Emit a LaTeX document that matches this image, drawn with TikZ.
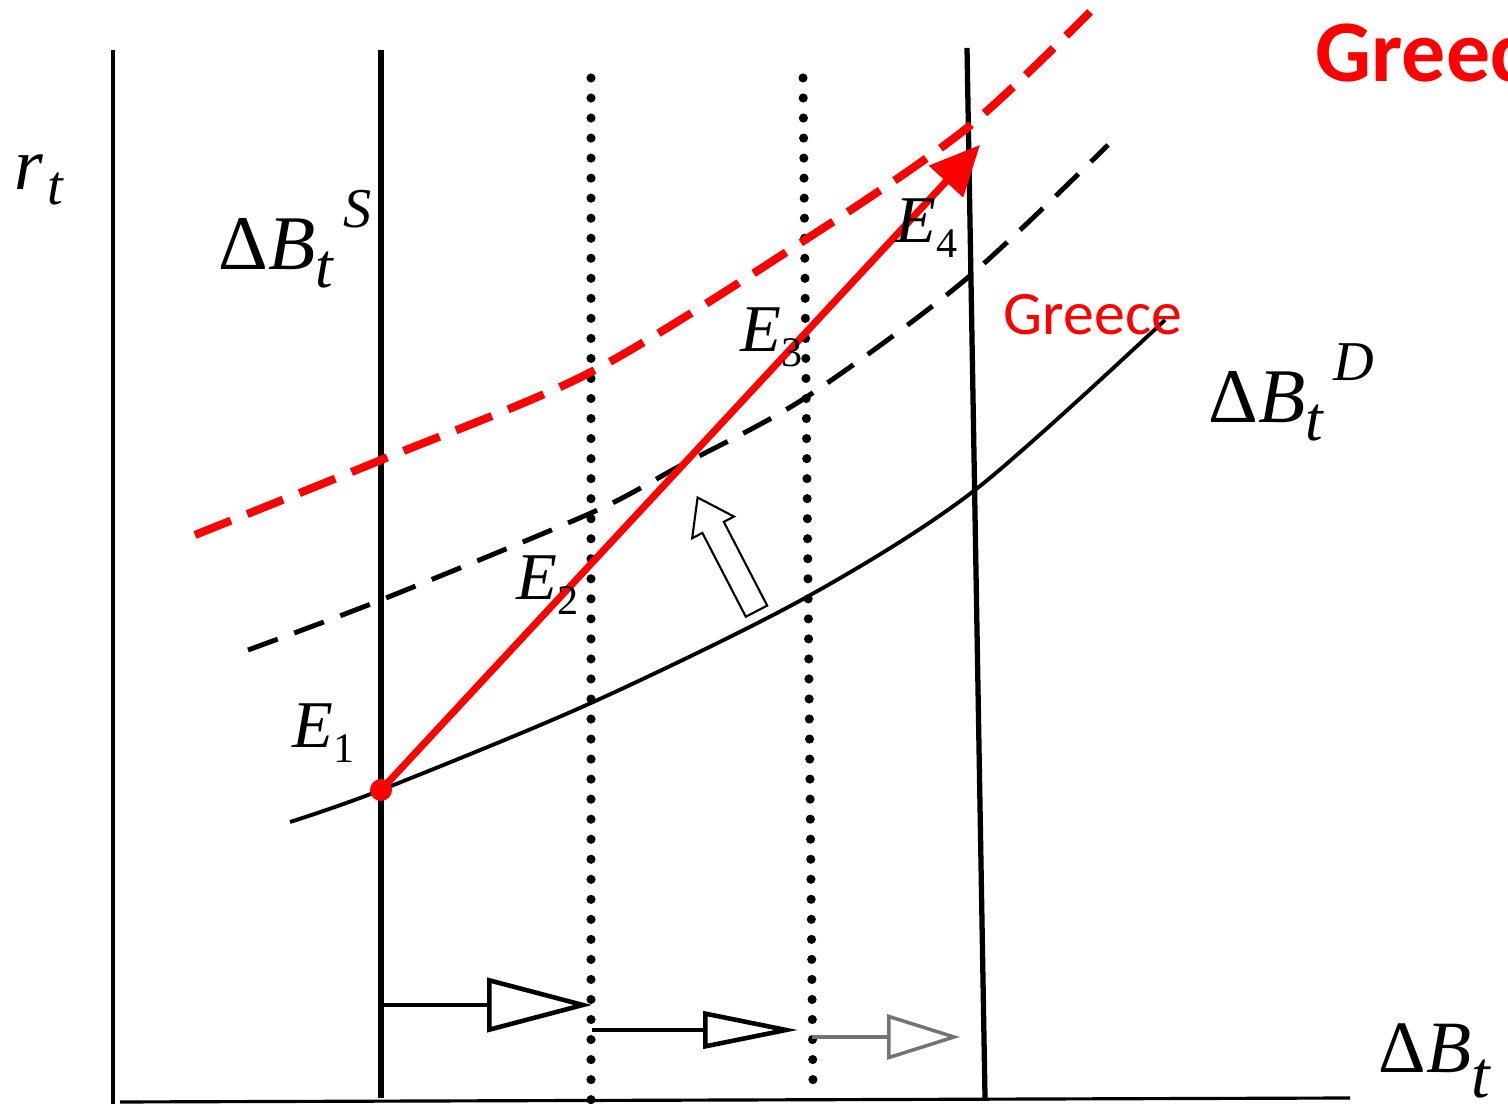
\documentclass[tikz,border=0pt]{standalone}
\usepackage{fontspec}
\setmainfont{Liberation Serif}
\newfontfamily\grfont{Carlito}
\usepackage{tikz}
\usetikzlibrary{arrows.meta, shapes.arrows, positioning}
\tikzstyle{axis} = [line width=0.9pt]
\tikzstyle{supply} = [line width=1.9pt]
\tikzstyle{dotline} = [line width=2.6pt, line cap=round, dash pattern=on 0pt off 5.7pt]
\tikzstyle{demand} = [line width=1.1pt]
\tikzstyle{demandup} = [line width=1.4pt, dash pattern=on 9pt off 5pt]
\tikzstyle{demandgr} = [line width=2.3pt, red, dash pattern=on 11pt off 5pt]
\tikzstyle{shiftarr} = [line width=1.3pt, -{Triangle[open, length=10.5mm, width=5.4mm]}]
\tikzstyle{lbl} = [inner sep=0pt, anchor=base west]
\newcommand{\dB}[1]{\fontsize{22}{26}\selectfont\textup{Δ}\textit{B}\raisebox{-5pt}{\fontsize{18}{20}\selectfont\textit{t}}\raisebox{12pt}{\fontsize{16}{18}\selectfont\,\textit{#1}}}
\newcommand{\Ei}[1]{\fontsize{19}{24}\selectfont\textit{E}\raisebox{-4pt}{\fontsize{12}{14}\selectfont #1}}

\begin{document}
\begin{tikzpicture}
    \useasboundingbox (0,0) rectangle (15.08,11.04);
    \clip (0,0) rectangle (15.08,11.04);

    % axes
    \draw[axis] (1.13,10.54) -- (1.13,0);
    \draw[axis] (1.20,0.02) -- (13.50,0.06);
    \node[lbl] (rt) at (0.14,9.14) {\fontsize{21}{24}\selectfont\textit{r}\hspace{1pt}\raisebox{-4pt}{\fontsize{16}{18}\selectfont\textit{t}}};
    \node[lbl] (bx) at (13.78,0.31) {\fontsize{21}{26}\selectfont\textup{Δ}\textit{B}\raisebox{-7pt}{\fontsize{19}{20}\selectfont\textit{t}}};

    % supply lines
    \draw[supply] (3.81,10.54) -- (3.81,0.06);
    \draw[line width=1.5pt] (9.67,10.56) -- (9.85,0.06);
    \draw[dotline] (5.91,10.26) -- (5.91,0.04);
    \draw[dotline] (8.03,10.26) -- (8.13,0.14);
    \node[lbl] (bs) at (2.18,8.34) {\dB{S}};

    % demand curves
    \draw[demand] plot[smooth] coordinates {(2.90,2.82) (3.81,3.14) (5.91,4.01) (8.05,5.06) (9.75,6.14) (11.65,7.84)};
    \draw[demandup] plot[smooth] coordinates {(2.48,4.54) (3.81,5.04) (5.91,5.91) (6.78,6.37) (8.05,7.06) (9.65,8.24) (11.08,9.59)};
    \draw[demandgr] plot[smooth] coordinates {(1.95,5.69) (3.81,6.44) (5.91,7.32) (8.05,8.64) (9.67,9.76) (10.90,10.92)};
    \node[lbl] (bd) at (12.08,6.81) {\dB{D}};
    \node[lbl, red] (gr) at (10.03,7.69) {\grfont\fontsize{17.6}{20}\selectfont Greece};
    \node[lbl, red] (grtop) at (13.15,10.22) {\grfont\bfseries\fontsize{25}{30}\selectfont Greece};

    % equilibria
    \coordinate (E1) at (3.81,3.14);
    \coordinate (E4) at (9.80,9.59);
    \draw[line width=2pt, red, -{Triangle[length=5mm, width=4.5mm]}] (E1) -- (E4);
    \fill[red] (E1) circle (0.11);
    \node[lbl] (e1) at (2.92,3.56) {\Ei{1}};
    \node[lbl] (e2) at (5.16,5.04) {\Ei{2}};
    \node[lbl] (e3) at (7.40,7.52) {\Ei{3}};
    \node[lbl] (e4) at (8.95,8.61) {\Ei{4}};

    % shift of demand
    \node[single arrow, draw, fill=white, line width=0.6pt, inner sep=0.11cm, minimum height=1.28cm,
          single arrow head extend=0.115cm, single arrow tip angle=70, rotate=117.4] (shift) at (7.31,5.42) {};

    % shifts of supply
    \coordinate (s0) at (3.81,0.99);
    \coordinate (s1) at (5.92,0.99);
    \coordinate (s2) at (5.92,0.74);
    \coordinate (s3) at (7.98,0.74);
    \coordinate (s4) at (8.12,0.67);
    \coordinate (s5) at (9.60,0.67);
    \draw[shiftarr] (s0) -- (s1);
    \draw[line width=1.3pt, -{Triangle[open, length=9.5mm, width=3.7mm]}] (s2) -- (s3);
    \draw[line width=1pt, black!55, -{Triangle[open, length=7.3mm, width=4.5mm]}] (s4) -- (s5);
\end{tikzpicture}
\end{document}
